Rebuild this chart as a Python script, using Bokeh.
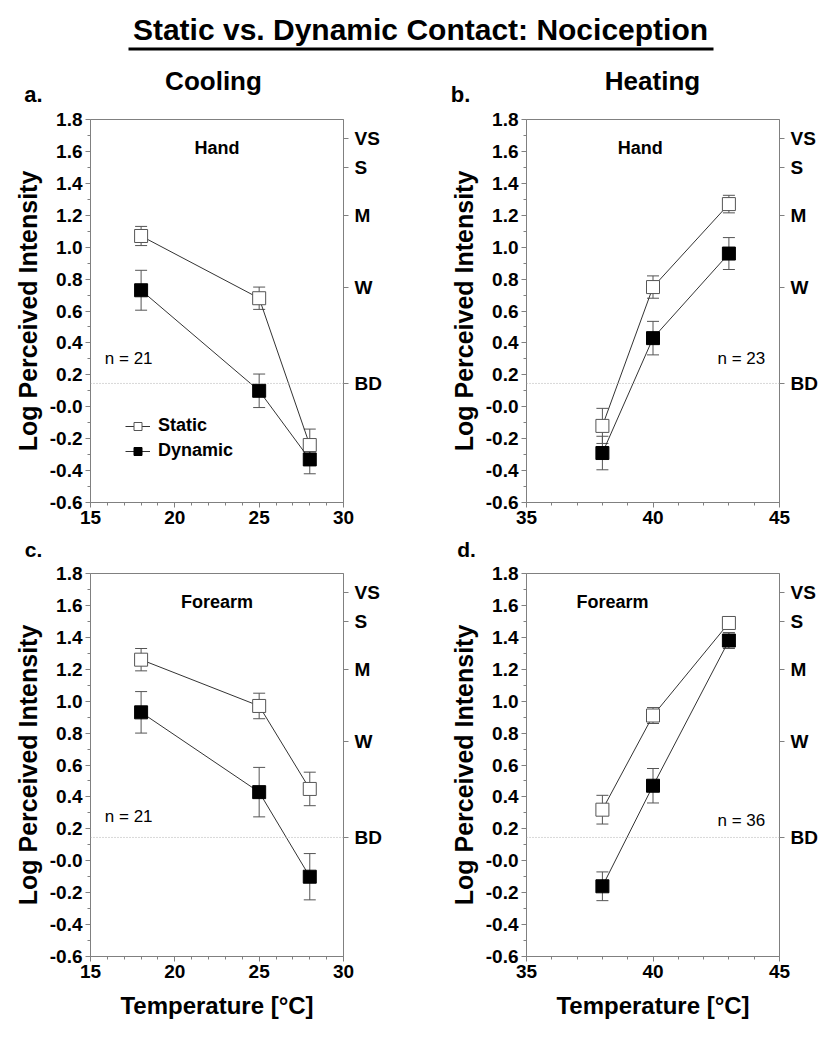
from bokeh.plotting import figure
from bokeh.models import (Range1d, LinearAxis, FixedTicker, Span, Label, Whisker, TeeHead,
                          ColumnDataSource, Legend, LegendItem, BoxAnnotation)
from bokeh.layouts import gridplot, column
from bokeh.embed import file_html
from bokeh.resources import INLINE

FONT = "Liberation Sans"

# ---------------- data ----------------
title_text = "Static vs. Dynamic Contact: Nociception"
col_titles = ["Cooling", "Heating"]
panel_letters = ["a.", "b.", "c.", "d."]
sites = ["Hand", "Hand", "Forearm", "Forearm"]
n_labels = ["n = 21", "n = 23", "n = 21", "n = 36"]
series_names = ["Static", "Dynamic"]

cool_temps = [18, 25, 28]
heat_temps = [38, 40, 43]

a_static = [1.07, 0.68, -0.24]
a_static_se = [0.06, 0.07, 0.10]
a_dynamic = [0.73, 0.10, -0.33]
a_dynamic_se = [0.125, 0.105, 0.09]

b_static = [-0.12, 0.75, 1.27]
b_static_se = [0.11, 0.07, 0.055]
b_dynamic = [-0.29, 0.43, 0.96]
b_dynamic_se = [0.105, 0.105, 0.10]

c_static = [1.26, 0.97, 0.45]
c_static_se = [0.07, 0.08, 0.105]
c_dynamic = [0.93, 0.43, -0.10]
c_dynamic_se = [0.13, 0.155, 0.145]

d_static = [0.32, 0.91, 1.49]
d_static_se = [0.09, 0.05, 0.03]
d_dynamic = [-0.16, 0.47, 1.38]
d_dynamic_se = [0.09, 0.108, 0.05]

y_tick_values = [-0.6, -0.4, -0.2, 0.0, 0.2, 0.4, 0.6, 0.8, 1.0, 1.2, 1.4, 1.6, 1.8]
y_tick_labels = ["-0.6", "-0.4", "-0.2", "-0.0", "0.2", "0.4", "0.6", "0.8",
                 "1.0", "1.2", "1.4", "1.6", "1.8"]
y_minor_values = [-0.5, -0.3, -0.1, 0.1, 0.3, 0.5, 0.7, 0.9, 1.1, 1.3, 1.5, 1.7]

cool_ticks = [15, 20, 25, 30]
cool_minor = [16, 17, 18, 19, 21, 22, 23, 24, 26, 27, 28, 29]
heat_ticks = [35, 40, 45]
heat_minor = [36, 37, 38, 39, 41, 42, 43, 44]

rating_values = [0.146, 0.75, 1.20, 1.50, 1.68]
rating_labels = ["BD", "W", "M", "S", "VS"]

GRAY = "#808080"
PAGE_W = 819


def style_axis(ax):
    ax.axis_line_color = GRAY
    ax.major_tick_line_color = GRAY
    ax.minor_tick_line_color = GRAY
    ax.major_tick_in = 0
    ax.major_tick_out = 5
    ax.minor_tick_in = 0
    ax.minor_tick_out = 3
    ax.major_label_text_font = FONT
    ax.major_label_text_font_style = "bold"
    ax.major_label_text_font_size = "19px"
    ax.major_label_text_color = "black"
    ax.major_label_standoff = 3
    ax.axis_label_text_font = FONT
    ax.axis_label_text_font_style = "bold"
    ax.axis_label_text_color = "black"


def blank_fig(w, h):
    f = figure(width=w, height=h, x_range=Range1d(0, w), y_range=Range1d(0, h),
               output_backend="svg", toolbar_location=None,
               x_axis_location=None, y_axis_location=None,
               min_border_left=0, min_border_right=0, min_border_top=0, min_border_bottom=0)
    f.xgrid.visible = False
    f.ygrid.visible = False
    f.outline_line_color = None
    return f


def make_panel(idx, x_lo, x_hi, x_major, x_minor, temps, st, st_se, dy, dy_se,
               bl, br, bt, bb, show_xlabel, show_legend, site_x, n_x, n_y):
    p = figure(frame_width=253, frame_height=383,
               x_range=Range1d(x_lo, x_hi), y_range=Range1d(-0.6, 1.8),
               output_backend="svg", toolbar_location=None,
               min_border_left=bl, min_border_right=br, min_border_top=bt, min_border_bottom=bb,
               background_fill_color="white", border_fill_color="white")
    p.xgrid.visible = False
    p.ygrid.visible = False
    p.outline_line_color = GRAY
    p.outline_line_width = 1

    xa = p.xaxis[0]
    xa.ticker = FixedTicker(ticks=x_major, minor_ticks=x_minor)
    style_axis(xa)
    if show_xlabel:
        xa.axis_label = "Temperature [°C]"
        xa.axis_label_text_font_size = "24px"
        xa.axis_label_standoff = 11

    ya = p.yaxis[0]
    ya.ticker = FixedTicker(ticks=y_tick_values, minor_ticks=y_minor_values)
    ya.major_label_overrides = {v: s for v, s in zip(y_tick_values, y_tick_labels)}
    style_axis(ya)
    ya.axis_label = "Log Perceived Intensity"
    ya.axis_label_text_font_size = "25px"
    ya.axis_label_standoff = 5

    ra = LinearAxis(ticker=FixedTicker(ticks=rating_values, minor_ticks=[]))
    ra.major_label_overrides = {v: s for v, s in zip(rating_values, rating_labels)}
    style_axis(ra)
    ra.major_label_standoff = 6
    p.add_layout(ra, "right")

    p.add_layout(Span(location=rating_values[0], dimension="width", line_color="#b0b0b0",
                      line_dash="1 2", line_width=1))

    renderers = []
    for vals, ses, fill, edge in [(st, st_se, "white", "#555555"), (dy, dy_se, "black", "black")]:
        src = ColumnDataSource(dict(x=temps, y=vals,
                                    lower=[v - e for v, e in zip(vals, ses)],
                                    upper=[v + e for v, e in zip(vals, ses)]))
        w = Whisker(base="x", upper="upper", lower="lower", source=src,
                    line_color="#555555", line_width=1, level="underlay",
                    upper_head=TeeHead(size=12, line_color="#555555", line_width=1),
                    lower_head=TeeHead(size=12, line_color="#555555", line_width=1))
        p.add_layout(w)
        lr = p.line("x", "y", source=src, line_color="#333333", line_width=1)
        sr = p.scatter("x", "y", source=src, marker="square", size=13,
                       fill_color=fill, line_color=edge, line_width=1)
        renderers.append([lr, sr])

    if show_legend:
        leg = Legend(items=[LegendItem(label=series_names[0], renderers=renderers[0]),
                            LegendItem(label=series_names[1], renderers=renderers[1])],
                     location=(35, 41), padding=0, margin=0, spacing=4,
                     glyph_width=25, glyph_height=20, label_height=20, label_standoff=8,
                     label_text_font=FONT, label_text_font_style="bold",
                     label_text_font_size="18px", label_text_color="black",
                     border_line_alpha=0, background_fill_alpha=0)
        p.add_layout(leg, "center")

    p.add_layout(Label(x=site_x, y=1.62, text=sites[idx], text_align="center",
                       text_baseline="middle", text_font=FONT, text_font_style="bold",
                       text_font_size="18px", text_color="black"))
    p.add_layout(Label(x=n_x, y=n_y, text=n_labels[idx], text_align="left",
                       text_baseline="middle", text_font=FONT,
                       text_font_size="17px", text_color="black"))
    return p


# panels (page starts at 0,0): row1 frame 119..502, row2 frame 573..956
pa = make_panel(0, 15, 30, cool_ticks, cool_minor, cool_temps, a_static, a_static_se,
                a_dynamic, a_dynamic_se, 90, 97, 11, 30, False, True, 22.5, 15.85, 0.30)
pb = make_panel(1, 35, 45, heat_ticks, heat_minor, heat_temps, b_static, b_static_se,
                b_dynamic, b_dynamic_se, 86, 40, 11, 30, False, False, 39.5, 42.55, 0.30)
pc = make_panel(2, 15, 30, cool_ticks, cool_minor, cool_temps, c_static, c_static_se,
                c_dynamic, c_dynamic_se, 90, 97, 11, 82, True, False, 22.5, 15.85, 0.28)
pd_ = make_panel(3, 35, 45, heat_ticks, heat_minor, heat_temps, d_static, d_static_se,
                 d_dynamic, d_dynamic_se, 86, 40, 11, 82, True, False, 38.4, 42.55, 0.25)

# header: page y 0..108 (y up from bottom)
header = blank_fig(PAGE_W, 108)
header.add_layout(Label(x=420, y=79, text=title_text, text_align="center",
                        text_baseline="middle", text_font=FONT, text_font_style="bold",
                        text_font_size="30px", text_color="black"))
header.add_layout(BoxAnnotation(left=128, right=713, bottom=58, top=61,
                                fill_color="black", fill_alpha=1, line_alpha=0))
for txt, cx in zip(col_titles, [213, 652]):
    header.add_layout(Label(x=cx, y=28, text=txt, text_align="center",
                            text_baseline="middle", text_font=FONT, text_font_style="bold",
                            text_font_size="26px", text_color="black"))
for txt, cx in zip(panel_letters[:2], [33, 460]):
    header.add_layout(Label(x=cx, y=14, text=txt, text_align="center",
                            text_baseline="middle", text_font=FONT, text_font_style="bold",
                            text_font_size="22px", text_color="black"))

# spacer between rows: page y 532..562
spacer = blank_fig(PAGE_W, 30)
for txt, cx in zip(panel_letters[2:], [33, 466]):
    spacer.add_layout(Label(x=cx, y=13, text=txt, text_align="center",
                            text_baseline="middle", text_font=FONT, text_font_style="bold",
                            text_font_size="21px", text_color="black"))

row1 = gridplot([[pa, pb]], toolbar_location=None)
row2 = gridplot([[pc, pd_]], toolbar_location=None)
layout = column(header, row1, spacer, row2)

open("out.html", "w").write(file_html(layout, INLINE))
